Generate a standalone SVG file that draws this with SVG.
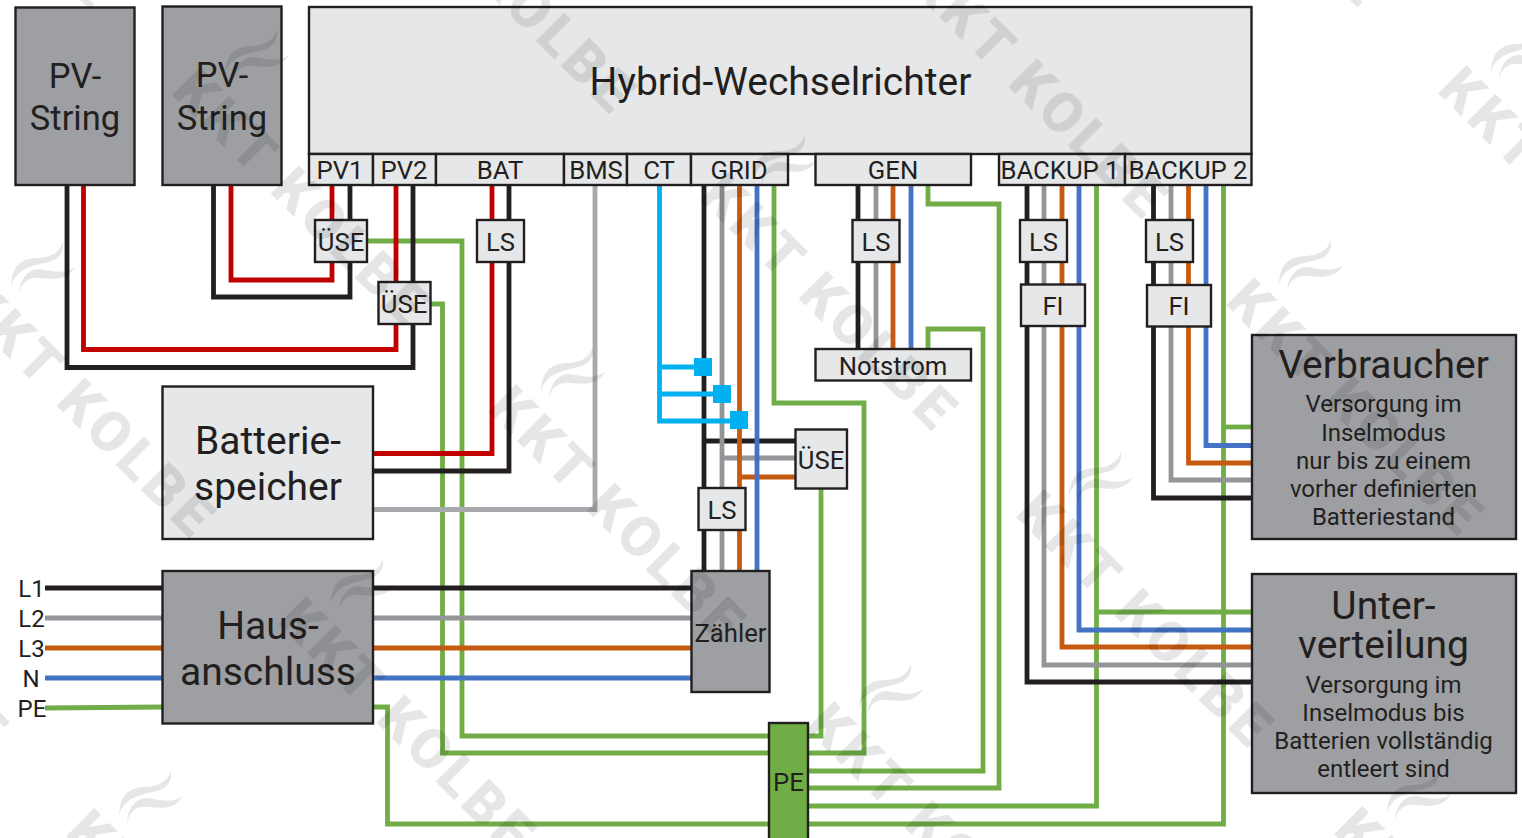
<svg xmlns="http://www.w3.org/2000/svg" xmlns:xlink="http://www.w3.org/1999/xlink" width="1522" height="838" viewBox="0 0 1522 838">
<style>
text{font-family:Roboto,"Liberation Sans",sans-serif;fill:#231f20;text-anchor:middle}
.d{fill:#9d9fa2;stroke:#231f20;stroke-width:2.4}
.l{fill:#e6e7e8;stroke:#231f20;stroke-width:2.4}
.pe{fill:#70ad47;stroke:#231f20;stroke-width:2.4}
.w{fill:none;stroke-width:4.8;stroke-linejoin:miter}
.k{stroke:#231f20}.r{stroke:#c00000}.g{stroke:#939598}.g2{stroke:#a7a9ac}.o{stroke:#c55a11}.b{stroke:#4472c4}.n{stroke:#70ad47}.c{stroke:#00b0f0}
.f25{font-size:25.7px}.s{font-size:24px}.f24{font-size:24px}.f34{font-size:34.500px}.f38{font-size:39px}.f39{font-size:39px}
.wm text{font-size:56px;font-weight:900;letter-spacing:5px;fill:#000;text-anchor:start}
.wm{fill:#000;opacity:.1}
</style>
<defs>
<path id="sw" d="M107-64C104-51 92-47 80-47C68-46 56-42 55-19C58-30 66-37 84-41C94-43 109-45 107-64ZM119-38C112-26 100-25 84-27C74-28 66-24 63-12C64-24 70-36 84-36C96-34 108-30 119-38Z"/>
</defs>
<rect width="1522" height="838" fill="#fff"/>
<g id="connectors">
<g class="w n">
<path d="M367 241H462V736H821V489"/>
<path d="M430 304H442.500V753H864V403H774V185"/>
<path d="M928 185V204H999V788H808"/>
<path d="M928 349V329H983V771H808"/>
<path d="M1096.500 185V806H808"/>
<path d="M1096.500 612H1252"/>
<path d="M1223.500 185V824H387.500V707H373"/>
<path d="M1223.500 427H1252"/>
<path d="M45 708L163 707"/>
</g>
<g class="w k">
<path d="M67 185V367.500H413V185"/>
<path d="M213.500 185V297H350V185"/>
<path d="M509 185V471H373"/>
<path d="M704 185V571"/>
<path d="M704 441H795"/>
<path d="M858 185V349"/>
<path d="M1027 185V682H1252"/>
<path d="M1153.500 185V498H1252"/>
<path d="M45 588H163M373 588H691"/>
</g>
<g class="w r">
<path d="M83.500 185V349.500H396V185"/>
<path d="M231 185V280H332V185"/>
<path d="M492 185V453.500H373"/>
</g>
<path class="w g2" d="M595 185V509.500H373"/>
<g class="w g">
<path d="M722 185V571"/>
<path d="M722 458H795"/>
<path d="M876 185V349"/>
<path d="M1044 185V665H1252"/>
<path d="M1171 185V480H1252"/>
<path d="M45 618H163M373 618H691"/>
</g>
<g class="w o">
<path d="M739.500 185V571"/>
<path d="M739.500 477H795"/>
<path d="M893 185V349"/>
<path d="M1062 185V647H1252"/>
<path d="M1188.500 185V463H1252"/>
<path d="M45 648H163M373 648H691"/>
</g>
<g class="w b">
<path d="M757 185V571"/>
<path d="M911 185V349"/>
<path d="M1079 185V630H1252"/>
<path d="M1206 185V445.500H1252"/>
<path d="M45 678H163M373 678H691"/>
</g>
<g class="w c">
<path d="M659.500 185V421H740"/>
<path d="M659.500 367H703"/>
<path d="M659.500 394H722"/>
</g>
<g fill="#00b0f0">
<rect x="694" y="358" width="18" height="18"/>
<rect x="713" y="385" width="18" height="18"/>
<rect x="730" y="411" width="18" height="18"/>
</g>
</g>
<g id="pv-string-1"><rect class="d" x="15.500" y="7.500" width="119" height="177.500"/><text class="f34" x="75" y="88">PV-</text><text class="f34" x="75" y="130">String</text></g>
<g id="pv-string-2"><rect class="d" x="162.500" y="6.500" width="119" height="178.500"/><text class="f34" x="222" y="87">PV-</text><text class="f34" x="222" y="130">String</text></g>
<g id="hybrid"><rect class="l" x="309" y="7" width="942.500" height="147"/><text class="f38" x="780.500" y="95">Hybrid-Wechselrichter</text></g>
<g id="port-pv1"><rect class="l" x="309" y="154" width="64" height="31"/><text class="f25" x="340" y="179">PV1</text></g>
<g id="port-pv2"><rect class="l" x="373" y="154" width="63" height="31"/><text class="f25" x="404" y="179">PV2</text></g>
<g id="port-bat"><rect class="l" x="436" y="154" width="128" height="31"/><text class="f25" x="500" y="179">BAT</text></g>
<g id="port-bms"><rect class="l" x="564" y="154" width="63" height="31"/><text class="f25" x="596" y="179">BMS</text></g>
<g id="port-ct"><rect class="l" x="627" y="154" width="64" height="31"/><text class="f25" x="659" y="179">CT</text></g>
<g id="port-grid"><rect class="l" x="691" y="154" width="97" height="31"/><text class="f25" x="739" y="179">GRID</text></g>
<g id="port-gen"><rect class="l" x="815.500" y="154" width="155.500" height="31"/><text class="f25" x="893" y="179">GEN</text></g>
<g id="port-backup1"><rect class="l" x="999" y="154" width="126" height="31"/><text class="f25" x="1060" y="179">BACKUP 1</text></g>
<g id="port-backup2"><rect class="l" x="1125" y="154" width="126.500" height="31"/><text class="f25" x="1188" y="179">BACKUP 2</text></g>
<g id="use-pv1"><rect class="l" x="315" y="220" width="52" height="42"/><text class="f25" x="341" y="251">ÜSE</text></g>
<g id="use-pv2"><rect class="l" x="378.500" y="282" width="52" height="42"/><text class="f25" x="404" y="313">ÜSE</text></g>
<g id="ls-bat"><rect class="l" x="477" y="220" width="47" height="42"/><text class="f25" x="500.500" y="251">LS</text></g>
<g id="use-grid"><rect class="l" x="795.500" y="429.500" width="51.500" height="59"/><text class="f25" x="821" y="469">ÜSE</text></g>
<g id="ls-grid"><rect class="l" x="698.500" y="488" width="47" height="42"/><text class="f25" x="722" y="519">LS</text></g>
<g id="ls-gen"><rect class="l" x="852.500" y="220" width="47" height="42"/><text class="f25" x="876" y="251">LS</text></g>
<g id="ls-b1"><rect class="l" x="1020" y="220" width="47" height="42"/><text class="f25" x="1043.500" y="251">LS</text></g>
<g id="fi-b1"><rect class="l" x="1021" y="284.500" width="64" height="41.500"/><text class="f25" x="1053" y="315">FI</text></g>
<g id="ls-b2"><rect class="l" x="1146" y="220" width="47" height="42"/><text class="f25" x="1169.500" y="251">LS</text></g>
<g id="fi-b2"><rect class="l" x="1147" y="285" width="64" height="41.500"/><text class="f25" x="1179" y="315">FI</text></g>
<g id="notstrom"><rect class="l" x="815.500" y="349" width="155.500" height="31.500"/><text class="f25" x="893" y="375">Notstrom</text></g>
<g id="batterie"><rect class="l" x="162.500" y="386.500" width="210.500" height="152.500"/><text class="f39" x="268" y="454">Batterie-</text><text class="f39" x="268" y="500">speicher</text></g>
<g id="hausanschluss"><rect class="d" x="162.500" y="571" width="210.500" height="152.500"/><text class="f39" x="268" y="639">Haus-</text><text class="f39" x="268" y="685">anschluss</text></g>
<g id="zaehler"><rect class="d" x="691.500" y="571" width="78" height="121"/><text class="f25" x="730.500" y="642">Zähler</text></g>
<g id="pe"><rect class="pe" x="769" y="723" width="39" height="118"/><text class="f25" x="788.500" y="791">PE</text></g>
<g id="verbraucher"><rect class="d" x="1252" y="335" width="264" height="204"/><text class="f39" x="1383.500" y="378">Verbraucher</text><text class="s" x="1383.500" y="412">Versorgung im</text><text class="s" x="1383.500" y="441">Inselmodus</text><text class="s" x="1383.500" y="469">nur bis zu einem</text><text class="s" x="1383.500" y="497">vorher definierten</text><text class="s" x="1383.500" y="525">Batteriestand</text></g>
<g id="unterverteilung"><rect class="d" x="1252" y="574" width="264" height="219"/><text class="f39" x="1383.500" y="619">Unter-</text><text class="f39" x="1383.500" y="658">verteilung</text><text class="s" x="1383.500" y="693">Versorgung im</text><text class="s" x="1383.500" y="721">Inselmodus bis</text><text class="s" x="1383.500" y="749">Batterien vollständig</text><text class="s" x="1383.500" y="777">entleert sind</text></g>
<g id="labels"><text class="f24" x="31.500" y="597">L1</text><text class="f24" x="31.500" y="627">L2</text><text class="f24" x="31.500" y="657">L3</text><text class="f24" x="31" y="687">N</text><text class="f24" x="32" y="717">PE</text></g>
<g id="watermark" class="wm">
<g transform="translate(698 198)"><use href="#sw"/><text transform="rotate(45)">KKT KOLBE</text></g>
<g transform="translate(1224 303)"><use href="#sw"/><text transform="rotate(45)">KKT KOLBE</text></g>
<g transform="translate(908 -14)"><use href="#sw"/><text transform="rotate(45)">KKT KOLBE</text></g>
<g transform="translate(1436 91)"><use href="#sw"/><text transform="rotate(45)">KKT KOLBE</text></g>
<g transform="translate(170 93)"><use href="#sw"/><text transform="rotate(45)">KKT KOLBE</text></g>
<g transform="translate(-44 305)"><use href="#sw"/><text transform="rotate(45)">KKT KOLBE</text></g>
<g transform="translate(486 410)"><use href="#sw"/><text transform="rotate(45)">KKT KOLBE</text></g>
<g transform="translate(1014 515)"><use href="#sw"/><text transform="rotate(45)">KKT KOLBE</text></g>
<g transform="translate(276 622)"><use href="#sw"/><text transform="rotate(45)">KKT KOLBE</text></g>
<g transform="translate(804 727)"><use href="#sw"/><text transform="rotate(45)">KKT KOLBE</text></g>
<g transform="translate(1332 832)"><use href="#sw"/><text transform="rotate(45)">KKT KOLBE</text></g>
<g transform="translate(64 834)"><use href="#sw"/><text transform="rotate(45)">KKT KOLBE</text></g>
<g transform="translate(376 -119)"><text transform="rotate(45)">KKT KOLBE</text></g>
<g transform="translate(1124 -226)"><text transform="rotate(45)">KKT KOLBE</text></g>
<g transform="translate(-144 -224)"><text transform="rotate(45)">KKT KOLBE</text></g>
<g transform="translate(-252 517)"><text transform="rotate(45)">KKT KOLBE</text></g>
</g>
</svg>
